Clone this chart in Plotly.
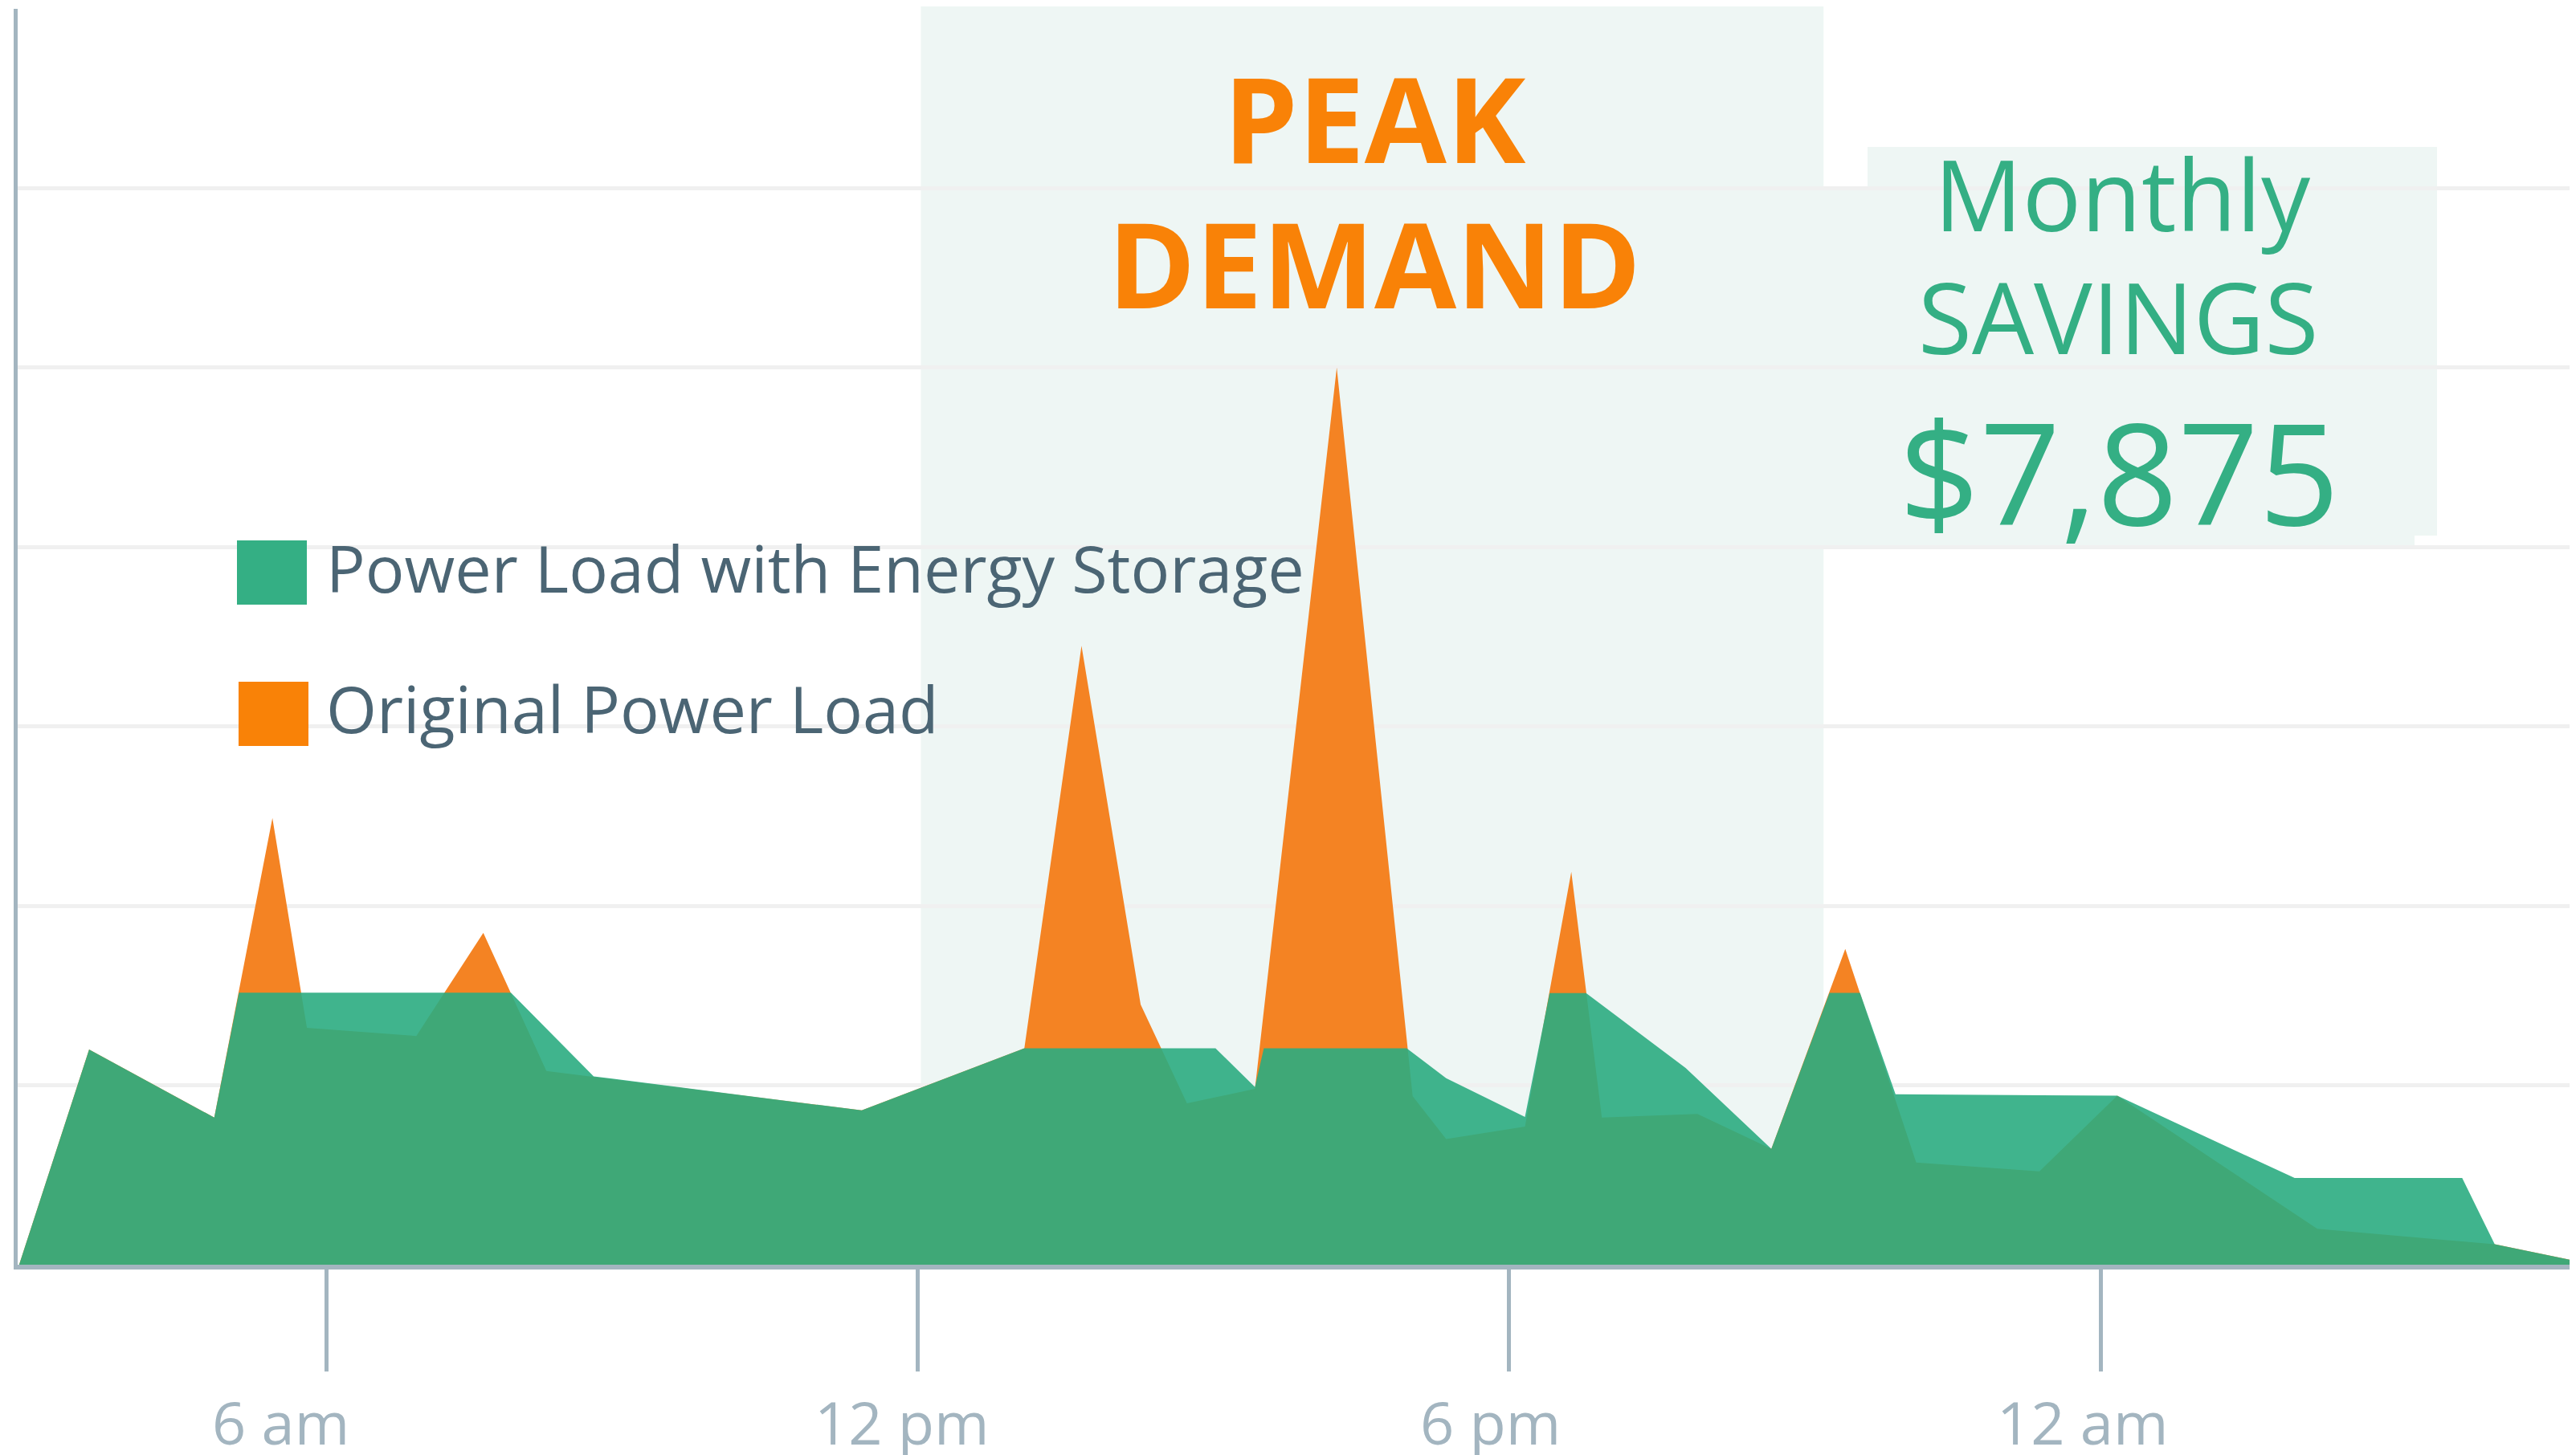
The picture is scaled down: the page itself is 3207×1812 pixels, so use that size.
import plotly.graph_objects as go

# ---------------- data ----------------
series_names = ["Power Load with Energy Storage", "Original Power Load"]

hours_original = [2.88, 3.59, 4.86, 5.45, 5.80, 6.91, 7.59, 8.23, 11.43, 13.08, 13.66, 14.26,
                  14.73, 15.42, 16.25, 17.02, 17.36, 18.16, 18.63, 18.94, 19.91, 20.66, 21.41,
                  22.13, 23.38, 24.17, 26.20, 28.00, 28.825]
load_original = [0, 1.20, 0.82, 2.49, 1.32, 1.275, 1.85, 1.08, 0.86, 1.206, 3.45, 1.45,
                 0.90, 0.98, 5.0, 0.94, 0.70, 0.77, 2.19, 0.82, 0.84, 0.646, 1.76,
                 0.57, 0.52, 0.942, 0.20, 0.114, 0.02]

hours_storage = [2.88, 3.59, 4.86, 5.11, 7.87, 8.71, 11.43, 13.08, 15.02, 15.42, 15.51, 16.96,
                 17.36, 18.16, 18.41, 18.78, 19.79, 20.66, 21.25, 21.56, 21.92, 24.17, 25.97,
                 27.67, 28.00, 28.825]
load_storage = [0, 1.20, 0.82, 1.516, 1.516, 1.05, 0.86, 1.206, 1.206, 0.99, 1.206, 1.206,
                1.04, 0.823, 1.514, 1.514, 1.097, 0.646, 1.515, 1.515, 0.95, 0.942, 0.483,
                0.483, 0.114, 0.02]

tick_hours = [6, 12, 18, 24]
tick_labels = ["6 am", "12 pm", "6 pm", "12 am"]

peak_window = [12.03, 21.19]
peak_title = ["PEAK", "DEMAND"]
savings_lines = ["Monthly", "SAVINGS", "$7,875"]

# ---------------- style / layout ----------------
BODY = 8                      # default page margin around the plot div
W, H = 3207 - BODY, 1812 - BODY
PLOT_L, PLOT_R, PLOT_T, PLOT_B = 22, 3207, 11, 1575   # plot area in page pixels
ML = PLOT_L - BODY
MT = PLOT_T - BODY
MR = (BODY + W) - PLOT_R
MB = (BODY + H) - PLOT_B
PW, PH = PLOT_R - PLOT_L, PLOT_B - PLOT_T

ORANGE_FILL = "rgb(244,131,35)"
TEAL_FILL = "rgba(43,172,129,0.9)"
TEAL_SWATCH = "#34AF84"
ORANGE_SWATCH = "#F98207"
PEAK_TEXT = "#F98207"
SAVE_TEXT = "#34AF84"
MINT = "#EEF6F4"
AXIS = "#A3B5C0"
GRID = "#F0F0F0"
LEGEND_TEXT = "#4B6574"
FONT = "Open Sans"
tick_label_shift = [-57, -20, -23, -23]


def px(xp):
    return (xp - PLOT_L) / PW


def py(yp):
    return (PLOT_B - yp) / PH


fig = go.Figure()
fig.add_trace(go.Scatter(x=hours_original, y=load_original, name=series_names[1],
                         mode="lines", fill="tozeroy", fillcolor=ORANGE_FILL,
                         line=dict(width=0, color=ORANGE_FILL), hoverinfo="skip"))
fig.add_trace(go.Scatter(x=hours_storage, y=load_storage, name=series_names[0],
                         mode="lines", fill="tozeroy", fillcolor=TEAL_FILL,
                         line=dict(width=0, color=TEAL_FILL), hoverinfo="skip"))

shapes = []
# peak demand window
shapes.append(dict(type="rect", xref="x", yref="paper", x0=peak_window[0], x1=peak_window[1],
                   y0=0, y1=py(2), fillcolor=MINT, line=dict(width=0), layer="below"))
# savings boxes
shapes.append(dict(type="rect", xref="paper", yref="paper", x0=px(2325), x1=px(3034),
                   y0=py(667), y1=py(183), fillcolor=MINT, line=dict(width=0), layer="between"))
shapes.append(dict(type="rect", xref="paper", yref="paper", x0=px(2226), x1=px(3006),
                   y0=py(682), y1=py(233), fillcolor=MINT, line=dict(width=0), layer="between"))
# legend swatches
shapes.append(dict(type="rect", xref="paper", yref="paper", x0=px(295), x1=px(382),
                   y0=py(753), y1=py(673), fillcolor=TEAL_SWATCH, line=dict(width=0), layer="above"))
shapes.append(dict(type="rect", xref="paper", yref="paper", x0=px(297), x1=px(384),
                   y0=py(929), y1=py(849), fillcolor=ORANGE_SWATCH, line=dict(width=0), layer="above"))

annotations = []
annotations.append(dict(xref="paper", yref="paper", x=px(404), y=py(706), xanchor="left",
                        yanchor="middle", text=series_names[0], showarrow=False,
                        font=dict(family=FONT, size=81, color=LEGEND_TEXT)))
annotations.append(dict(xref="paper", yref="paper", x=px(404), y=py(881), xanchor="left",
                        yanchor="middle", text=series_names[1], showarrow=False,
                        font=dict(family=FONT, size=81, color=LEGEND_TEXT)))
annotations.append(dict(xref="paper", yref="paper", x=px(1711), y=py(146), xanchor="center",
                        yanchor="middle", text=peak_title[0], showarrow=False,
                        font=dict(family=FONT, size=148, color=PEAK_TEXT, weight=700)))
annotations.append(dict(xref="paper", yref="paper", x=px(1711), y=py(326), xanchor="center",
                        yanchor="middle", text=peak_title[1], showarrow=False,
                        font=dict(family=FONT, size=148, color=PEAK_TEXT, weight=700)))
annotations.append(dict(xref="paper", yref="paper", x=px(2642), y=py(241), xanchor="center",
                        yanchor="middle", text=savings_lines[0], showarrow=False,
                        font=dict(family=FONT, size=122, color=SAVE_TEXT)))
annotations.append(dict(xref="paper", yref="paper", x=px(2637), y=py(394), xanchor="center",
                        yanchor="middle", text=savings_lines[1], showarrow=False,
                        font=dict(family=FONT, size=122, color=SAVE_TEXT)))
annotations.append(dict(xref="paper", yref="paper", x=px(2638), y=py(586), xanchor="center",
                        yanchor="middle", text=savings_lines[2], showarrow=False,
                        font=dict(family=FONT, size=176, color=SAVE_TEXT)))
# x tick labels
for hv, lab, sh in zip(tick_hours, tick_labels, tick_label_shift):
    annotations.append(dict(xref="x", yref="paper", x=hv, y=py(1770), xshift=sh,
                            xanchor="center", yanchor="middle", text=lab, showarrow=False,
                            font=dict(family=FONT, size=74, color=AXIS)))

fig.update_layout(
    width=W, height=H,
    margin=dict(l=ML, r=MR, t=MT, b=MB, pad=0),
    paper_bgcolor="white", plot_bgcolor="white",
    showlegend=False,
    shapes=shapes, annotations=annotations,
    xaxis=dict(range=[2.865, 28.825], showgrid=False, zeroline=False,
               showline=True, linecolor=AXIS, linewidth=6,
               ticks="outside", ticklen=127, tickwidth=5, tickcolor=AXIS,
               tickvals=tick_hours, showticklabels=False),
    yaxis=dict(range=[0, 7], dtick=1, showgrid=True, gridcolor=GRID, gridwidth=5,
               zeroline=False, showline=True, linecolor=AXIS, linewidth=5,
               showticklabels=False, ticks=""),
)

fig.write_html("out.html")
